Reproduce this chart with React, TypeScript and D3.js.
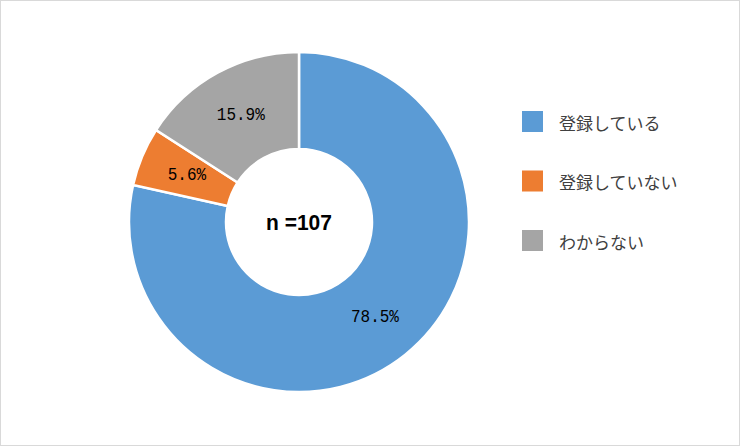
import React from "react";
import * as d3 from "d3";

const categories = ["登録している", "登録していない", "わからない"];
const values = [78.5, 5.6, 15.9];
const colors = ["#5B9BD5", "#ED7D31", "#A5A5A5"];
const centerLabel = "n =107";

const W = 740;
const H = 446;
const cx = 299;
const cy = 222;
const outerR = 170;
const innerR = 73;

export default function App() {
  const pie = d3
    .pie<number>()
    .sort(null)
    .value((d) => d)
    .startAngle(0)
    .endAngle(2 * Math.PI);
  const arcs = pie(values);
  const arc = d3.arc<d3.PieArcDatum<number>>().innerRadius(innerR).outerRadius(outerR);

  const legendY = d3.scalePoint<string>().domain(categories).range([122, 241]);

  return (
    <svg
      width={W}
      height={H}
      style={{ position: "absolute", left: 0, top: 0, background: "#fff" }}
    >
      <rect x={0.5} y={0.5} width={W - 1} height={H - 1} fill="#fff" stroke="#D9D9D9" />
      <g transform={`translate(${cx},${cy})`}>
        {arcs.map((a, i) => (
          <path key={i} d={arc(a) || ""} fill={colors[i]} stroke="#fff" strokeWidth={2.5} />
        ))}
        {arcs.map((a, i) => {
          const [x, y] = arc.centroid(a);
          return (
            <text
              key={"l" + i}
              x={x}
              y={y}
              textAnchor="middle"
              dominantBaseline="central"
              fontFamily="'Liberation Mono', 'DejaVu Sans Mono', monospace"
              fontSize={16}
              fill="#000"
              transform={`translate(${x},${y}) scale(1,1.15) translate(${-x},${-y})`}
            >
              {values[i].toFixed(1)}%
            </text>
          );
        })}
        <text
          x={0}
          y={0}
          textAnchor="middle"
          dominantBaseline="central"
          fontFamily="'Liberation Sans', Arial, sans-serif"
          fontWeight="bold"
          fontSize={21}
          fill="#000"
          transform="scale(1,1.08)"
        >
          {centerLabel}
        </text>
      </g>
      {categories.map((c, i) => (
        <g key={c} transform={`translate(0,${legendY(c)})`}>
          <rect x={522} y={-11} width={21} height={21} fill={colors[i]} />
          <text
            x={559}
            y={0}
            dominantBaseline="central"
            fontFamily="'Noto Sans CJK JP', sans-serif"
            fontSize={17}
            fill="#404040"
          >
            {c}
          </text>
        </g>
      ))}
    </svg>
  );
}
